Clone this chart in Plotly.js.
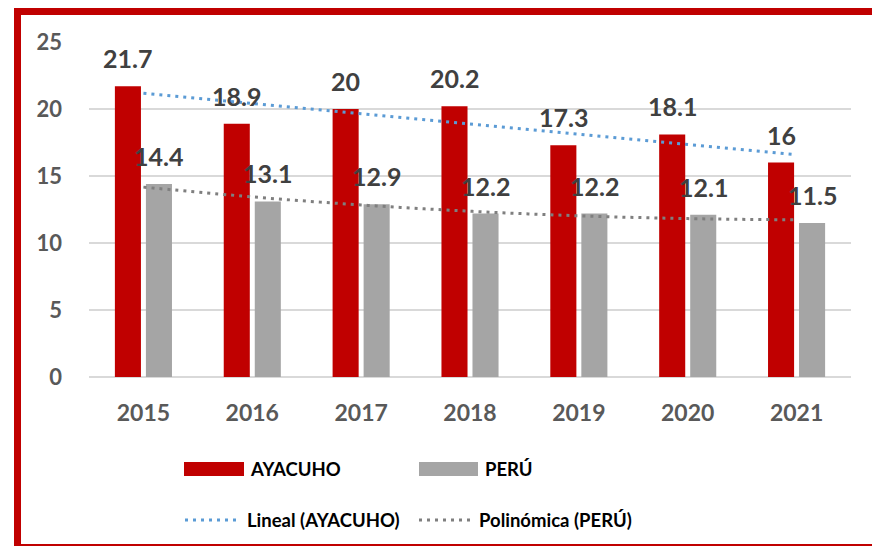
<!DOCTYPE html>
<html>
<head>
<meta charset="utf-8">
<script src="https://cdn.plot.ly/plotly-3.0.1.min.js"></script>
<style>html,body{margin:0;padding:0;background:#fff;}#chart{width:872px;height:546px;}</style>
</head>
<body>
<div id="chart"></div>
<script>
// ---- data ----
const years = ['2015','2016','2017','2018','2019','2020','2021'];
const ayacucho = [21.7, 18.9, 20, 20.2, 17.3, 18.1, 16];
const peru = [14.4, 13.1, 12.9, 12.2, 12.2, 12.1, 11.5];
// trend lines (Excel linear / polynomial trendlines)
const linealAyacucho = [21.18, 20.41, 19.65, 18.89, 18.12, 17.36, 16.59];
const polinomicaPeru = [14.17, 13.44, 12.84, 12.37, 12.03, 11.82, 11.73];
const yTicks = [0, 5, 10, 15, 20, 25];

// ---- geometry helpers (pixel -> paper) ----
const L = 89, R = 851, T = 42, B = 377;
const px = x => (x - L) / (R - L);
const py = y => (B - y) / (B - T);

const RED = '#C00000', GRAY = '#A5A5A5', BLUE = '#5B9BD5', DGRAY = '#7F7F7F';
const FONT = 'Lato, "Open Sans", sans-serif';
const DOTS = '3px,5px';

const traces = [
  {type:'bar', x: years, y: ayacucho, name:'AYACUHO', marker:{color:RED}, hoverinfo:'skip'},
  {type:'bar', x: years, y: peru, name:'PERÚ', marker:{color:GRAY}, hoverinfo:'skip'},
  {type:'scatter', mode:'lines', x: years, y: linealAyacucho, name:'Lineal (AYACUHO)',
   line:{color:BLUE, width:3, dash:DOTS}},
  {type:'scatter', mode:'lines', x: years, y: polinomicaPeru, name:'Polinómica (PERÚ)',
   line:{color:DGRAY, width:3, dash:DOTS, shape:'spline'}}
];

const annotations = [];
years.forEach((yr, i) => {
  // category index i (a numeric-looking year string would be read as an index)
  annotations.push({x: i, y: ayacucho[i], xref:'x', yref:'y', text: String(ayacucho[i]),
    showarrow:false, xshift:-15.5, yshift:28, yanchor:'middle',
    font:{family:FONT, size:25, color:'#404040', weight:'bold'}});
  annotations.push({x: i, y: peru[i], xref:'x', yref:'y', text: String(peru[i]),
    showarrow:false, xshift:15.5, yshift:28, yanchor:'middle',
    font:{family:FONT, size:25, color:'#404040', weight:'bold'}});
});

// manual legend
const legendItems = [
  {label:'AYACUHO', kind:'box', color:RED, x0:184, x1:244, y:469, tx:248},
  {label:'PERÚ', kind:'box', color:GRAY, x0:419, x1:478, y:469, tx:483},
  {label:'Lineal (AYACUHO)', kind:'dot', color:BLUE, x0:185, x1:241, y:520, tx:245},
  {label:'Polinómica (PERÚ)', kind:'dot', color:DGRAY, x0:419, x1:474, y:520, tx:477}
];
const shapes = [
  // red frame
  {type:'rect', xref:'paper', yref:'paper', x0:px(17.5), x1:px(905), y0:py(11.5), y1:py(547.5),
   line:{color:RED, width:7}, fillcolor:'rgba(0,0,0,0)', layer:'above'}
];
legendItems.forEach(it => {
  if (it.kind === 'box') {
    shapes.push({type:'rect', xref:'paper', yref:'paper', x0:px(it.x0), x1:px(it.x1),
      y0:py(it.y-7), y1:py(it.y+7), line:{width:0}, fillcolor:it.color});
  } else {
    shapes.push({type:'line', xref:'paper', yref:'paper', x0:px(it.x0), x1:px(it.x1),
      y0:py(it.y), y1:py(it.y), line:{color:it.color, width:3, dash:DOTS}});
  }
  annotations.push({xref:'paper', yref:'paper', x:px(it.tx), y:py(it.y), xanchor:'left', yanchor:'middle',
    text:it.label, showarrow:false, font:{family:FONT, size:18.5, color:'#000000', weight:'bold'}});
});

const layout = {
  width:872, height:546,
  margin:{l:L, r:872-R, t:T, b:546-B, pad:0},
  paper_bgcolor:'#ffffff', plot_bgcolor:'#ffffff',
  barmode:'group', bargap:0.43, bargroupgap:0.16,
  showlegend:false,
  font:{family:FONT},
  xaxis:{type:'category', range:[-0.5, 6.5], showgrid:false, zeroline:false, showline:false, ticks:'',
    tickfont:{family:FONT, size:23, color:'#595959', weight:'bold'}, ticklabelstandoff:20},
  yaxis:{range:[0,25], tickvals:yTicks, ticktext:yTicks.map(String), showgrid:true,
    gridcolor:'#D9D9D9', gridwidth:1.5, zeroline:true, zerolinecolor:'#D9D9D9', zerolinewidth:1.5,
    showline:false, ticks:'', tickfont:{family:FONT, size:22, color:'#595959', weight:'bold'},
    ticklabelstandoff:26},
  shapes: shapes,
  annotations: annotations
};

Plotly.newPlot('chart', traces, layout, {displayModeBar:false, staticPlot:true});
</script>
</body>
</html>
